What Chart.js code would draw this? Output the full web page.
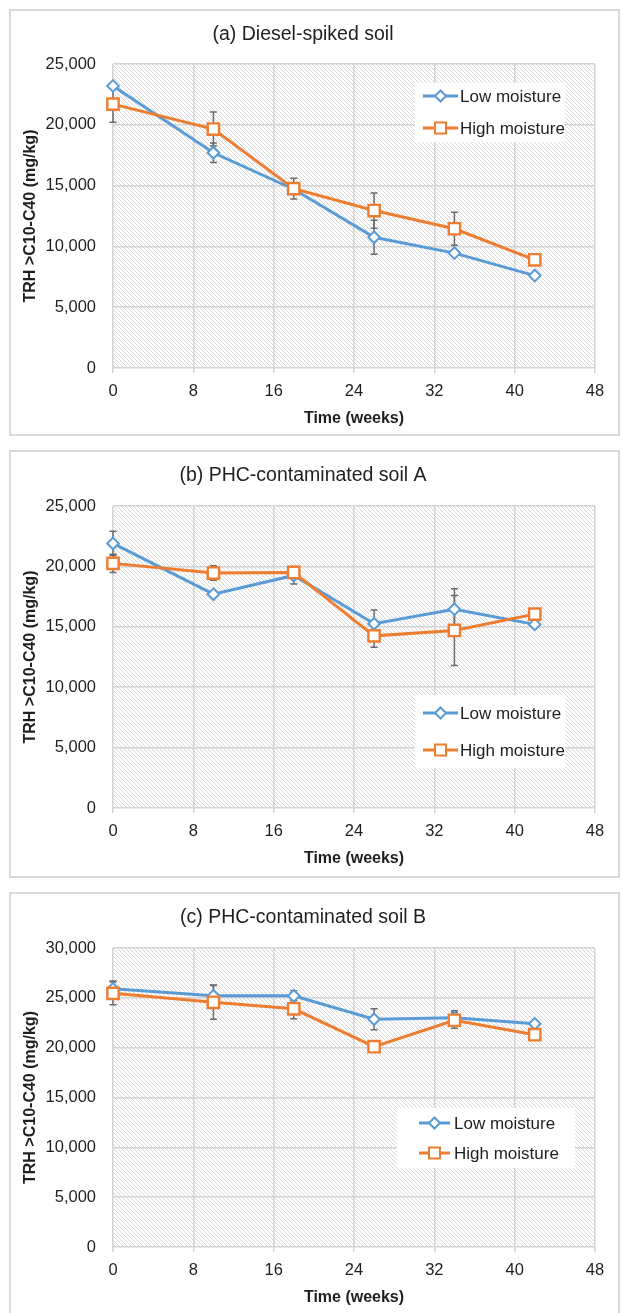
<!DOCTYPE html>
<html>
<head>
<meta charset="utf-8">
<script src="https://cdn.jsdelivr.net/npm/chart.js@4.4.1/dist/chart.umd.min.js"></script>
<style>
  html, body { margin: 0; padding: 0; background: #fff; }
  body { width: 622px; height: 1313px; position: relative; overflow: hidden; }
  .panel { position: absolute; left: 9px; width: 611px; box-sizing: border-box; border: 2px solid #d9d9d9; background: #fff; }
  .panel canvas { position: absolute; left: 0; top: 0; }
</style>
</head>
<body>
<div class="panel" id="pa" style="top:9px;height:427px"><canvas id="ca" width="607" height="423"></canvas></div>
<div class="panel" id="pb" style="top:450px;height:428px"><canvas id="cb" width="607" height="424"></canvas></div>
<div class="panel" id="pc" style="top:892px;height:430px"><canvas id="cc" width="607" height="426"></canvas></div>
<script>
// ---- data ----
const weeks = [0, 10, 18, 26, 34, 42];
const seriesNames = ['Low moisture', 'High moisture'];
const panelTitles = ['(a) Diesel-spiked soil', '(b) PHC-contaminated soil A', '(c) PHC-contaminated soil B'];
const xAxisTitle = 'Time (weeks)';
const yAxisTitle = 'TRH >C10-C40 (mg/kg)';

const lowA  = [23200, 17700, 14700, 10750, 9450, 7600];
const highA = [21700, 19650, 14750, 12950, 11450, 8900];
const lowAErr  = [0, 800, 0, 1400, 0, 0];
const highAErr = [1500, 1400, 850, 1450, 1350, 0];

const lowB  = [21900, 17700, 19250, 15250, 16450, 15200];
const highB = [20250, 19450, 19500, 14250, 14700, 16050];
const lowBErr  = [1000, 0, 700, 1150, 1700, 0];
const highBErr = [750, 600, 500, 950, 2900, 0];

const lowC  = [25900, 25200, 25200, 22850, 23000, 22400];
const highC = [25450, 24550, 23900, 20100, 22750, 21300];
const lowCErr  = [800, 1100, 500, 1050, 700, 0];
const highCErr = [1150, 1700, 1000, 0, 800, 0];

const yMaxA = 25000, yMaxB = 25000, yMaxC = 30000;
const yStep = 5000, xMax = 48, xStep = 8;

// ---- styling ----
const BLUE = '#5B9BD5', ORANGE = '#ED7D31';
const FONT = "'Liberation Sans', Arial, sans-serif";
const TEXT = '#1f1f1f';
const GRID = '#d4d4d4';

function makeHatch() {
  const c = document.createElement('canvas');
  c.width = 4; c.height = 4;
  const g = c.getContext('2d');
  g.fillStyle = '#fff'; g.fillRect(0, 0, 4, 4);
  g.strokeStyle = '#d8d8d8'; g.lineWidth = 1;
  g.beginPath();
  g.moveTo(-1, -1); g.lineTo(5, 5);
  g.moveTo(-1, 3); g.lineTo(1, 5);
  g.moveTo(3, -1); g.lineTo(5, 1);
  g.stroke();
  return c;
}
const hatchTile = makeHatch();

const hatchPlugin = {
  id: 'hatchBg',
  beforeDraw(chart) {
    const {ctx, chartArea: a} = chart;
    ctx.save();
    ctx.fillStyle = ctx.createPattern(hatchTile, 'repeat');
    ctx.fillRect(a.left, a.top, a.right - a.left, a.bottom - a.top);
    ctx.restore();
  }
};

function errorPlugin(errs) {
  return {
    id: 'errBars',
    beforeDatasetsDraw(chart) {
      const ctx = chart.ctx, ys = chart.scales.y;
      ctx.save();
      ctx.strokeStyle = '#6b6b6b';
      ctx.lineWidth = 1.5;
      chart.data.datasets.forEach((ds, i) => {
        const meta = chart.getDatasetMeta(i);
        ds.data.forEach((p, j) => {
          const e = errs[i][j];
          if (!e) return;
          const x = meta.data[j].x;
          const y1 = ys.getPixelForValue(p.y + e), y2 = ys.getPixelForValue(p.y - e);
          ctx.beginPath();
          ctx.moveTo(x, y1); ctx.lineTo(x, y2);
          ctx.moveTo(x - 3.5, y1); ctx.lineTo(x + 3.5, y1);
          ctx.moveTo(x - 3.5, y2); ctx.lineTo(x + 3.5, y2);
          ctx.stroke();
        });
      });
      ctx.restore();
    }
  };
}

function drawMarker(ctx, style, x, y, color) {
  ctx.save();
  ctx.fillStyle = '#fff';
  ctx.strokeStyle = color;
  ctx.lineWidth = 2;
  ctx.beginPath();
  if (style === 'rectRot') {
    const r = 5.5;
    ctx.moveTo(x, y - r); ctx.lineTo(x + r, y); ctx.lineTo(x, y + r); ctx.lineTo(x - r, y); ctx.closePath();
  } else {
    const s = 5.5;
    ctx.rect(x - s, y - s, 2 * s, 2 * s);
  }
  ctx.fill(); ctx.stroke();
  ctx.restore();
}

function legendPlugin(pos) {
  return {
    id: 'boxLegend',
    afterDraw(chart) {
      const {ctx, chartArea: a} = chart;
      const bx = a.left + pos.dx, by = a.top + pos.dy;
      ctx.save();
      ctx.fillStyle = '#fff';
      ctx.fillRect(bx, by, pos.w, pos.h);
      chart.data.datasets.forEach((ds, i) => {
        const ry = by + pos.rows[i];
        ctx.strokeStyle = ds.borderColor;
        ctx.lineWidth = 3;
        ctx.beginPath();
        ctx.moveTo(bx + pos.s0, ry); ctx.lineTo(bx + pos.s1, ry);
        ctx.stroke();
        drawMarker(ctx, ds.pointStyle, bx + (pos.s0 + pos.s1) / 2, ry, ds.borderColor);
        ctx.fillStyle = TEXT;
        ctx.font = "17px " + FONT;
        ctx.textBaseline = 'middle';
        ctx.textAlign = 'left';
        ctx.fillText(ds.label, bx + pos.tx, ry + 1);
      });
      ctx.restore();
    }
  };
}

function makeChart(id, title, low, high, lowErr, highErr, yMax, cfg) {
  const canvas = document.getElementById(id);
  const H = canvas.height;
  return new Chart(canvas, {
    type: 'line',
    data: {
      datasets: [
        { label: seriesNames[0], data: weeks.map((w, i) => ({x: w, y: low[i]})),
          borderColor: BLUE, backgroundColor: '#fff', borderWidth: 3, clip: false,
          pointStyle: 'rectRot', pointRadius: 5.8, pointBorderWidth: 2, pointBackgroundColor: '#fff',
          pointBorderColor: BLUE, tension: 0, order: 2 },
        { label: seriesNames[1], data: weeks.map((w, i) => ({x: w, y: high[i]})),
          borderColor: ORANGE, backgroundColor: '#fff', borderWidth: 3, clip: false,
          pointStyle: 'rect', pointRadius: 8, pointBorderWidth: 2.4, pointBackgroundColor: '#fff',
          pointBorderColor: ORANGE, tension: 0, order: 1 }
      ]
    },
    options: {
      responsive: false,
      animation: false,
      devicePixelRatio: 1,
      layout: { padding: { left: 0, right: 23, top: 0, bottom: H - cfg.plotBottom - 66 } },
      plugins: {
        legend: { display: false },
        tooltip: { enabled: false },
        title: {
          display: true, text: title, color: TEXT,
          font: { family: FONT, size: 19.5, weight: 'normal' },
          padding: { top: 12, bottom: cfg.plotTop - 12 - 23.4 }
        }
      },
      scales: {
        x: {
          type: 'linear', min: 0, max: xMax,
          ticks: { stepSize: xStep, color: TEXT, font: { family: FONT, size: 16.5 }, padding: 9 },
          grid: { color: GRID, lineWidth: 1.5, tickLength: 5, drawTicks: true },
          border: { display: false },
          title: { display: true, text: xAxisTitle, color: TEXT,
                   font: { family: FONT, size: 16, weight: 'bold' }, padding: { top: 0, bottom: 6 } },
          afterFit(s) { s.height = 66; }
        },
        y: {
          min: 0, max: yMax,
          ticks: { stepSize: yStep, color: TEXT, font: { family: FONT, size: 16.5 }, padding: 17,
                   callback: v => v.toLocaleString('en-US') },
          grid: { color: GRID, lineWidth: 1.5, drawTicks: false, tickLength: 0 },
          border: { display: false },
          title: { display: true, text: yAxisTitle, color: TEXT,
                   font: { family: FONT, size: 16, weight: 'bold' }, padding: { top: 10, bottom: 0 } },
          afterFit(s) { s.width = 102; }
        }
      }
    },
    plugins: [hatchPlugin, errorPlugin([lowErr, highErr]), legendPlugin(cfg.legend)]
  });
}

makeChart('ca', panelTitles[0], lowA, highA, lowAErr, highAErr, yMaxA,
  { plotTop: 53, plotBottom: 357,
    legend: { dx: 302, dy: 19, w: 150, h: 59, rows: [13, 45], s0: 8, s1: 43, tx: 45 } });
makeChart('cb', panelTitles[1], lowB, highB, lowBErr, highBErr, yMaxB,
  { plotTop: 54, plotBottom: 356,
    legend: { dx: 302, dy: 189, w: 150, h: 73, rows: [18, 55], s0: 8, s1: 43, tx: 45 } });
makeChart('cc', panelTitles[2], lowC, highC, lowCErr, highCErr, yMaxC,
  { plotTop: 54, plotBottom: 353,
    legend: { dx: 284, dy: 160, w: 178, h: 60, rows: [15, 45], s0: 22, s1: 53, tx: 57 } });
</script>
</body>
</html>
